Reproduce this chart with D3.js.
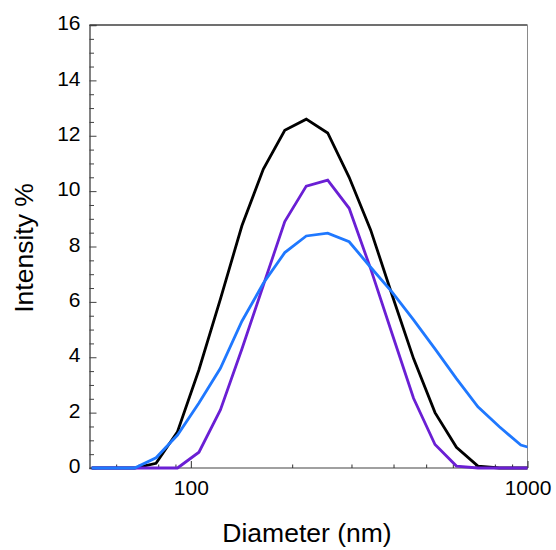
<!DOCTYPE html>
<html>
<head>
<meta charset="utf-8">
<script src="https://cdn.jsdelivr.net/npm/d3@7"></script>
<style>
  body { margin: 0; background: #fff; }
  svg { display: block; font-family: "Liberation Sans", Arial, sans-serif; }
</style>
</head>
<body>
<div id="container"></div>
<script>
// size bins (nm)
var diameters = [50.75, 58.77, 68.06, 78.82, 91.28, 105.7, 122.4, 141.8, 164.2, 190.1,
  220.2, 255.0, 295.3, 342.0, 396.1, 458.7, 531.2, 615.1, 712.4, 825.0, 955.4, 1106];

// intensity % per bin
var blackSeries = [0, 0, 0, 0.17, 1.31, 3.55, 6.1, 8.75, 10.8, 12.2,
  12.6, 12.1, 10.5, 8.6, 6.25, 3.95, 2.0, 0.75, 0.07, 0, 0, 0];
var purpleSeries = [0, 0, 0, 0, 0, 0.57, 2.1, 4.3, 6.6, 8.9,
  10.18, 10.4, 9.38, 7.2, 4.85, 2.52, 0.85, 0.07, 0, 0, 0, 0];
var blueSeries = [0, 0, 0, 0.37, 1.19, 2.35, 3.6, 5.3, 6.67, 7.78,
  8.38, 8.48, 8.17, 7.25, 6.35, 5.35, 4.3, 3.23, 2.21, 1.49, 0.83, 0.6];

var xTickLabels = [100, 1000];
var yTickLabels = [0, 2, 4, 6, 8, 10, 12, 14, 16];

var series = [
  { values: blackSeries, color: '#000000' },
  { values: purpleSeries, color: '#6a1fd4' },
  { values: blueSeries, color: '#1f78ff' }
];

var width = 556, height = 550;
var plotLeft = 89.5, plotRight = 527.5, plotTop = 25, plotBottom = 468;

var xScale = d3.scaleLog().domain([50, 1000]).range([plotLeft, plotRight]);
var yScale = d3.scaleLinear().domain([0, 16]).range([plotBottom, plotTop]);

var svg = d3.select('#container').append('svg')
  .attr('width', width)
  .attr('height', height);

// clip for data lines
svg.append('clipPath').attr('id', 'plotclip')
  .append('rect')
  .attr('x', plotLeft).attr('y', plotTop - 2)
  .attr('width', plotRight - plotLeft).attr('height', plotBottom - plotTop + 4);

// frame: top / right / bottom
svg.append('line').attr('x1', plotLeft).attr('x2', plotRight).attr('y1', plotTop).attr('y2', plotTop)
  .attr('stroke', '#404040').attr('stroke-width', 1.3);
svg.append('line').attr('x1', plotRight).attr('x2', plotRight).attr('y1', plotTop).attr('y2', plotBottom)
  .attr('stroke', '#8a8a8a').attr('stroke-width', 1);
svg.append('line').attr('x1', plotLeft).attr('x2', plotRight).attr('y1', plotBottom).attr('y2', plotBottom)
  .attr('stroke', '#a0a0a0').attr('stroke-width', 2);

// y axis
var yMinor = d3.range(0, 16.01, 0.5).filter(function(d){ return d % 2 !== 0; });
svg.append('g')
  .attr('transform', 'translate(' + plotLeft + ',0)')
  .call(d3.axisLeft(yScale).tickValues(yMinor).tickSize(-4.5).tickFormat(''))
  .call(function(g){ g.select('.domain').remove(); })
  .selectAll('line').attr('stroke', '#404040');

var yAxis = svg.append('g')
  .attr('transform', 'translate(' + plotLeft + ',0)')
  .call(d3.axisLeft(yScale).tickValues(yTickLabels).tickSize(-7).tickPadding(9).tickFormat(d3.format('d')));
yAxis.select('.domain').attr('stroke', '#404040').attr('stroke-width', 1.3);
yAxis.selectAll('line').attr('stroke', '#404040');
yAxis.selectAll('text')
  .attr('font-size', 21)
  .attr('fill', '#000')
  .attr('dy', '0.22em')
  .style('font-family', '"Liberation Sans", Arial, sans-serif');

// x axis
var xMinor = [60, 70, 80, 90, 200, 300, 400, 500, 600, 700, 800, 900];
svg.append('g')
  .attr('transform', 'translate(0,' + plotBottom + ')')
  .call(d3.axisBottom(xScale).tickValues(xMinor).tickSize(-3.5).tickFormat(''))
  .call(function(g){ g.select('.domain').remove(); })
  .selectAll('line').attr('stroke', '#303030');

var xAxis = svg.append('g')
  .attr('transform', 'translate(0,' + plotBottom + ')')
  .call(d3.axisBottom(xScale).tickValues(xTickLabels).tickSize(-7).tickPadding(12).tickFormat(d3.format('d')));
xAxis.select('.domain').remove();
xAxis.selectAll('line').attr('stroke', '#303030');
xAxis.selectAll('text')
  .attr('font-size', 21)
  .attr('fill', '#000')
  .style('font-family', '"Liberation Sans", Arial, sans-serif');

// data lines
var line = d3.line()
  .x(function(d){ return xScale(d[0]); })
  .y(function(d){ return yScale(d[1]); });

svg.append('g').attr('clip-path', 'url(#plotclip)')
  .selectAll('path').data(series).enter()
  .append('path')
  .attr('d', function(s){ return line(diameters.map(function(x, i){ return [x, s.values[i]]; })); })
  .attr('fill', 'none')
  .attr('stroke', function(s){ return s.color; })
  .attr('stroke-width', 2.8)
  .attr('stroke-linejoin', 'miter');

// titles
svg.append('text')
  .attr('x', 307).attr('y', 542)
  .attr('text-anchor', 'middle')
  .attr('font-size', 26.5)
  .text('Diameter (nm)');

svg.append('text')
  .attr('transform', 'translate(33,248) rotate(-90)')
  .attr('text-anchor', 'middle')
  .attr('font-size', 26.5)
  .text('Intensity %');
</script>
</body>
</html>
